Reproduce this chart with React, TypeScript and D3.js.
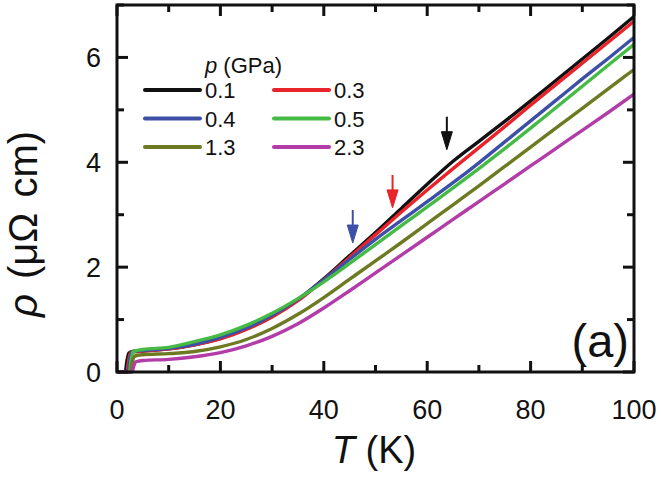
import * as d3 from "d3";

// pressures (GPa) and line colours
const pressures = ["0.1", "0.3", "0.4", "0.5", "1.3", "2.3"];
const colors = ["#111111", "#e8232a", "#3d4fa6", "#45bb45", "#6e7a22", "#b23ca8"];

// low temperature part (superconducting transition), [T, rho]
const lowT01 = [[0, 0], [1.6, 0], [1.9, 0.2], [2.3, 0.36], [3, 0.39]];
const lowT03 = [[0, 0], [1.9, 0], [2.2, 0.2], [2.6, 0.36], [3.3, 0.39]];
const lowT04 = [[0, 0], [2.1, 0], [2.4, 0.2], [2.8, 0.37], [3.5, 0.4]];
const lowT05 = [[0, 0], [2.4, 0], [2.7, 0.2], [3.1, 0.38], [3.8, 0.41]];
const lowT13 = [[0, 0], [2.6, 0], [2.9, 0.16], [3.3, 0.29], [4, 0.32]];
const lowT23 = [[0, 0], [2.9, 0], [3.2, 0.1], [3.6, 0.19], [4.3, 0.21]];

// normal state, sampled every 5 K
const temps = [5, 10, 15, 20, 25, 30, 35, 40, 45, 50, 55, 60, 65, 70, 75, 80, 85, 90, 95, 100];
const rho01 = [0.4, 0.44, 0.52, 0.64, 0.82, 1.06, 1.38, 1.78, 2.22, 2.66, 3.12, 3.58, 4.02, 4.4, 4.78, 5.17, 5.57, 5.97, 6.37, 6.78];
const rho03 = [0.4, 0.44, 0.52, 0.63, 0.81, 1.05, 1.36, 1.76, 2.19, 2.62, 3.05, 3.47, 3.88, 4.28, 4.68, 5.09, 5.49, 5.89, 6.29, 6.69];
const rho04 = [0.41, 0.45, 0.53, 0.66, 0.84, 1.08, 1.39, 1.76, 2.15, 2.53, 2.89, 3.25, 3.61, 3.99, 4.39, 4.79, 5.19, 5.59, 5.98, 6.38];
const rho05 = [0.43, 0.47, 0.58, 0.71, 0.89, 1.12, 1.4, 1.72, 2.07, 2.43, 2.79, 3.15, 3.51, 3.88, 4.26, 4.65, 5.05, 5.45, 5.85, 6.25];
const rho13 = [0.33, 0.35, 0.39, 0.48, 0.62, 0.83, 1.1, 1.42, 1.77, 2.12, 2.47, 2.83, 3.19, 3.55, 3.92, 4.29, 4.66, 5.03, 5.4, 5.77];
const rho23 = [0.22, 0.24, 0.29, 0.37, 0.5, 0.68, 0.92, 1.22, 1.55, 1.89, 2.23, 2.57, 2.91, 3.25, 3.59, 3.93, 4.27, 4.61, 4.95, 5.3];

const lowParts = [lowT01, lowT03, lowT04, lowT05, lowT13, lowT23];
const rhoSeries = [rho01, rho03, rho04, rho05, rho13, rho23];

// arrows marking the kink, [T, rho at tip]
const arrowT = [63.8, 53.3, 45.6];
const arrowRho = [4.24, 3.13, 2.46];
const arrowColors = ["#111111", "#e8232a", "#3d4fa6"];

const xTicks = [0, 20, 40, 60, 80, 100];
const yTicks = [0, 2, 4, 6];

const font = "Arial, 'Liberation Sans', sans-serif";

export default function App() {
  const width = 661;
  const height = 477;
  const margin = { top: 5, right: 27, bottom: 105, left: 117 };

  const x = d3.scaleLinear().domain([0, 100]).range([margin.left, width - margin.right]);
  const y = d3.scaleLinear().domain([0, 7]).range([height - margin.bottom, margin.top]);

  const line = d3
    .line<number[]>()
    .x((d) => x(d[0]))
    .y((d) => y(d[1]))
    .curve(d3.curveMonotoneX);

  const series = pressures.map((p, i) => ({
    p,
    color: colors[i],
    pts: [...lowParts[i], ...temps.map((t, j) => [t, rhoSeries[i][j]])],
  }));

  const x0 = x(0), x1 = x(100), yb = y(0), yt = y(7);
  const minorX = d3.range(0, 101, 10);
  const minorY = d3.range(0, 8, 1);

  const legendRows = [0, 1, 2];

  return (
    <svg width={width} height={height} style={{ position: "absolute", left: 0, top: 0, background: "#fff" }} fontFamily={font}>
      {/* curves */}
      {series.map((s) => (
        <path key={s.p} d={line(s.pts) ?? ""} fill="none" stroke={s.color} strokeWidth={3.4} strokeLinejoin="round" />
      ))}

      {/* arrows */}
      {arrowT.map((t, i) => {
        const ax = x(t);
        const ay = y(arrowRho[i]);
        return (
          <g key={i} fill={arrowColors[i]} stroke={arrowColors[i]}>
            <line x1={ax} x2={ax} y1={ay - 33} y2={ay - 14} strokeWidth={2} />
            <path d={`M${ax - 5.5},${ay - 18} L${ax + 5.5},${ay - 18} L${ax},${ay} Z`} strokeWidth={1} />
          </g>
        );
      })}

      {/* frame */}
      <rect x={x0} y={yt} width={x1 - x0} height={yb - yt} fill="none" stroke="#111" strokeWidth={3} />

      {/* ticks, inward on all sides */}
      {minorX.map((t) => {
        const len = t % 20 === 0 ? 11 : 7;
        return (
          <g key={"xt" + t} stroke="#111" strokeWidth={3}>
            <line x1={x(t)} x2={x(t)} y1={yb} y2={yb - len} />
            <line x1={x(t)} x2={x(t)} y1={yt} y2={yt + len} />
          </g>
        );
      })}
      {minorY.map((v) => {
        const len = v % 2 === 0 ? 11 : 7;
        return (
          <g key={"yt" + v} stroke="#111" strokeWidth={3}>
            <line x1={x0} x2={x0 + len} y1={y(v)} y2={y(v)} />
            <line x1={x1} x2={x1 - len} y1={y(v)} y2={y(v)} />
          </g>
        );
      })}

      {/* tick labels */}
      {xTicks.map((t) => (
        <text key={"xl" + t} x={x(t)} y={yb + 47} textAnchor="middle" fontSize={27} fill="#111">
          {t}
        </text>
      ))}
      {yTicks.map((v) => (
        <text key={"yl" + v} x={x0 - 16} y={y(v) + 10} textAnchor="end" fontSize={27} fill="#111">
          {v}
        </text>
      ))}

      {/* axis titles */}
      <text x={374} y={463} textAnchor="middle" fontSize={38} fill="#111">
        <tspan fontStyle="italic">T</tspan> (K)
      </text>
      <text transform="translate(37,224) rotate(-90)" textAnchor="middle" fontSize={40} fill="#111" wordSpacing={4}>
        <tspan fontStyle="italic">ρ</tspan> (μΩ cm)
      </text>

      {/* panel label */}
      <text x={629} y={357} textAnchor="end" fontSize={47} fill="#111">
        (a)
      </text>

      {/* legend */}
      <text x={205} y={73} fontSize={22} fill="#111">
        <tspan fontStyle="italic">p</tspan> (GPa)
      </text>
      {legendRows.map((r) =>
        [0, 1].map((c) => {
          const i = r * 2 + c;
          const lx = c === 0 ? 145 : 274;
          const ly = 90 + r * 28.5;
          return (
            <g key={"lg" + i}>
              <line x1={lx} x2={lx + 55} y1={ly} y2={ly} stroke={colors[i]} strokeWidth={4} strokeLinecap="round" />
              <text x={lx + 60} y={ly + 8} fontSize={22} fill="#111">
                {pressures[i]}
              </text>
            </g>
          );
        })
      )}
    </svg>
  );
}
